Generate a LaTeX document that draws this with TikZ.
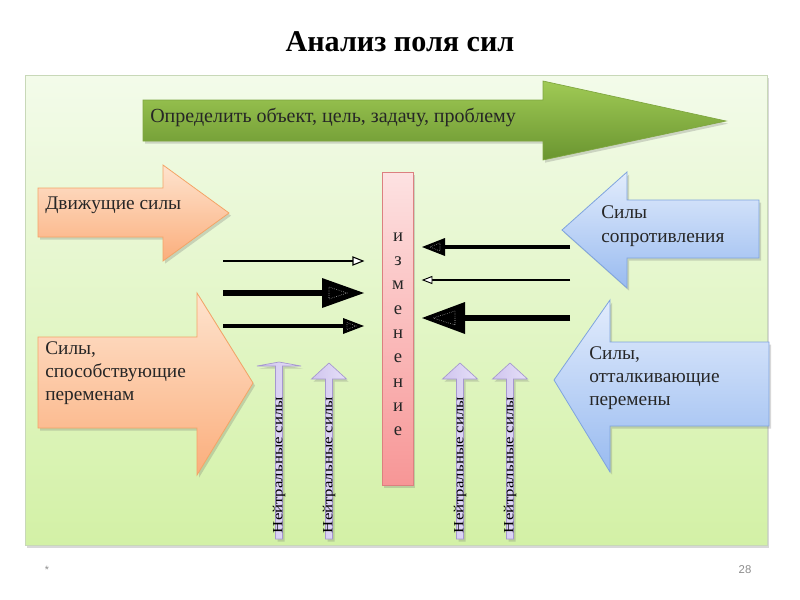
\documentclass[tikz,border=0pt]{standalone}
\usepackage{fontspec}
\setmainfont{Liberation Serif}
\newfontfamily\footfont{Liberation Sans}
\usetikzlibrary{shadows}
\definecolor{panelTop}{HTML}{F3FBEA}
\definecolor{panelBot}{HTML}{D3F1A6}
\definecolor{panelEdge}{HTML}{C8D8B8}
\definecolor{grnTop}{HTML}{A0CA55}
\definecolor{grnBot}{HTML}{6A9530}
\definecolor{grnEdge}{HTML}{7FA640}
\definecolor{orTop}{HTML}{FEE3CE}
\definecolor{orBot}{HTML}{FBAE7C}
\definecolor{orEdge}{HTML}{F4A466}
\definecolor{blTop}{HTML}{E2ECFC}
\definecolor{blBot}{HTML}{99BBF0}
\definecolor{blEdge}{HTML}{7FA4DE}
\definecolor{pkTop}{HTML}{FDE2E2}
\definecolor{pkBot}{HTML}{F79696}
\definecolor{pkEdge}{HTML}{DC8080}
\definecolor{lvTop}{HTML}{E6E0F8}
\definecolor{lvBot}{HTML}{CFC4EE}
\definecolor{lvEdge}{HTML}{A597CF}
\definecolor{footgray}{HTML}{8C8C8C}
\tikzset{
  shd/.style={drop shadow={shadow xshift=1.5pt,shadow yshift=-2pt,opacity=0.25,fill=black!60}},
  panelbox/.style={top color=panelTop,bottom color=panelBot,draw=panelEdge,line width=0.6pt,shd},
  greenarrow/.style={top color=grnTop,bottom color=grnBot,draw=grnEdge,line width=0.5pt,shd},
  orangearrow/.style={top color=orTop,bottom color=orBot,draw=orEdge,line width=0.6pt,shd},
  bluearrow/.style={top color=blTop,bottom color=blBot,draw=blEdge,line width=0.6pt,shd},
  pinkbar/.style={top color=pkTop,bottom color=pkBot,draw=pkEdge,line width=0.6pt,shd},
  lavarrow/.style={left color=lvBot,right color=lvTop,draw=lvEdge,line width=0.5pt,shd},
  boxtext/.style={font=\fontsize{14.5}{17.5}\selectfont,align=left,inner sep=0pt,text=black!85},
  neutext/.style={font=\fontsize{10.5}{12}\selectfont,rotate=90,inner sep=0pt,xscale=1.2},
  letter/.style={font=\fontsize{14}{16}\selectfont,inner sep=0pt,text=black!85},
  inner/.style={draw=white!60!gray,line width=0.4pt,densely dotted},
}
\begin{document}
\begin{tikzpicture}[x=0.75pt,y=-0.75pt]
\useasboundingbox (0,0) rectangle (800,600);
\fill[white] (0,0) rectangle (800,600);

\node[font=\fontsize{22.6}{26}\selectfont\bfseries] (title) at (400,42) {Анализ поля сил};

% panel
\shade[panelbox] (25,75) rectangle (767,545);

% green arrow
\shade[greenarrow] (143,100) -- (543,100) -- (543,81) -- (726,121) -- (543,160) -- (543,141) -- (143,141) -- cycle;
\node[font=\fontsize{15}{18}\selectfont,anchor=west,inner sep=0pt,text=black!85] (goal) at (150,117) {Определить объект, цель, задачу, проблему};

% orange arrows
\shade[orangearrow] (38,188) -- (163,188) -- (163,165) -- (229,213) -- (163,261) -- (163,237) -- (38,237) -- cycle;
\node[boxtext,anchor=west] (drive) at (45,205) {Движущие силы};
\shade[orangearrow] (38,337) -- (197,337) -- (197,293) -- (253,383) -- (197,475) -- (197,428) -- (38,428) -- cycle;
\node[boxtext,anchor=west] (promote) at (45,373) {Силы,\\способствующие\\переменам};

% blue arrows
\shade[bluearrow] (759,200) -- (627,200) -- (627,172) -- (562,230) -- (627,288) -- (627,258) -- (759,258) -- cycle;
\node[boxtext,anchor=west] (resist) at (601,226) {Силы\\сопротивления};
\shade[bluearrow] (769,342) -- (610,342) -- (610,300) -- (554,380) -- (610,472) -- (610,426) -- (769,426) -- cycle;
\node[boxtext,anchor=west] (repel) at (589,378) {Силы,\\отталкивающие\\перемены};

% pink bar
\shade[pinkbar] (382,172) rectangle (413,485);
\foreach \ch [count=\i from 0] in {и,з,м,е,н,е,н,и,е}
  \node[letter] (L\i) at (398,{237+24.3*\i}) {\ch};

% left black arrows
\coordinate (la1s) at (223,261); \coordinate (la1e) at (353,261);
\draw[line width=1pt] (la1s) -- (la1e);
\draw[fill=white,line width=0.8pt] (353,257) -- (363,261) -- (353,265) -- cycle;

\coordinate (la2s) at (223,293); \coordinate (la2e) at (323,293);
\draw[line width=4.2pt] (la2s) -- (la2e);
\fill (322,278) -- (364,293) -- (322,308) -- cycle;
\draw[inner] (329,287) -- (347,293) -- (329,299) -- cycle;

\coordinate (la3s) at (223,326); \coordinate (la3e) at (344,326);
\draw[line width=2.6pt] (la3s) -- (la3e);
\fill (343,318) -- (364,326) -- (343,334) -- cycle;
\draw[inner] (347,322.5) -- (356,326) -- (347,329.5) -- cycle;

% right black arrows
\coordinate (ra1s) at (570,247); \coordinate (ra1e) at (444,247);
\draw[line width=3pt] (ra1s) -- (ra1e);
\fill (445,238) -- (422,247) -- (445,256) -- cycle;
\draw[inner] (440,243) -- (430,247) -- (440,251) -- cycle;

\coordinate (ra2s) at (570,280); \coordinate (ra2e) at (432,280);
\draw[line width=0.9pt] (ra2s) -- (ra2e);
\draw[fill=white,line width=0.7pt] (432,276.5) -- (423,280) -- (432,283.5) -- cycle;

\coordinate (ra3s) at (570,318); \coordinate (ra3e) at (464,318);
\draw[line width=5pt] (ra3s) -- (ra3e);
\fill (465,302) -- (422,318) -- (465,334) -- cycle;
\draw[inner] (455,311) -- (433,318) -- (455,325) -- cycle;

% neutral arrows
\shade[lavarrow] (275.5,539) -- (275.5,366) -- (257,366) -- (279,362) -- (301,366) -- (282.5,366) -- (282.5,539) -- cycle;
\foreach \x in {329,460,510}
  \shade[lavarrow] (\x-3.5,539) -- (\x-3.5,379) -- (\x-17.5,379) -- (\x,363) -- (\x+17.5,379) -- (\x+3.5,379) -- (\x+3.5,539) -- cycle;
\node[neutext] (n1) at (279,465) {Нейтральные силы};
\node[neutext] (n2) at (329,465) {Нейтральные силы};
\node[neutext] (n3) at (460,465) {Нейтральные силы};
\node[neutext] (n4) at (510,465) {Нейтральные силы};

% footer
\node[font=\footfont\fontsize{8}{9}\selectfont,text=footgray] (star) at (47,570) {*};
\node[font=\footfont\fontsize{8.5}{9}\selectfont,text=footgray] (page) at (745,570) {28};
\end{tikzpicture}
\end{document}
